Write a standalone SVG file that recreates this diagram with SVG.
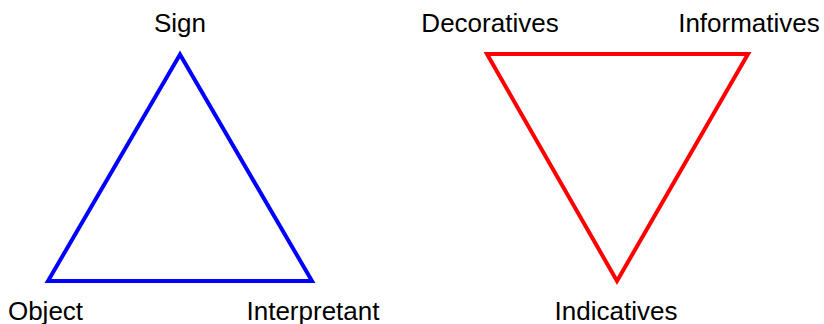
<svg xmlns="http://www.w3.org/2000/svg" width="824" height="324" viewBox="0 0 824 324">
<style>
text{font-family:"Liberation Sans",Arial,Helvetica,sans-serif;font-size:26px;fill:#000;text-anchor:middle}
.tri{fill:none;stroke-width:4;stroke-linejoin:miter}
</style>
<rect width="824" height="324" fill="#fff"/>
<g id="connectors">
<polygon id="semiotic" class="tri" stroke="#0000ff" points="180,54.5 48,281 312,281"/>
<polygon id="classes" class="tri" stroke="#ff0000" points="487,54 748,54 617,281"/>
</g>
<g id="sign"><text x="180" y="32">Sign</text></g>
<g id="object"><text x="45.5" y="320">Object</text></g>
<g id="interpretant"><text x="313" y="320">Interpretant</text></g>
<g id="decoratives"><text x="490" y="32">Decoratives</text></g>
<g id="informatives"><text x="749" y="32">Informatives</text></g>
<g id="indicatives"><text x="616" y="320">Indicatives</text></g>
</svg>
